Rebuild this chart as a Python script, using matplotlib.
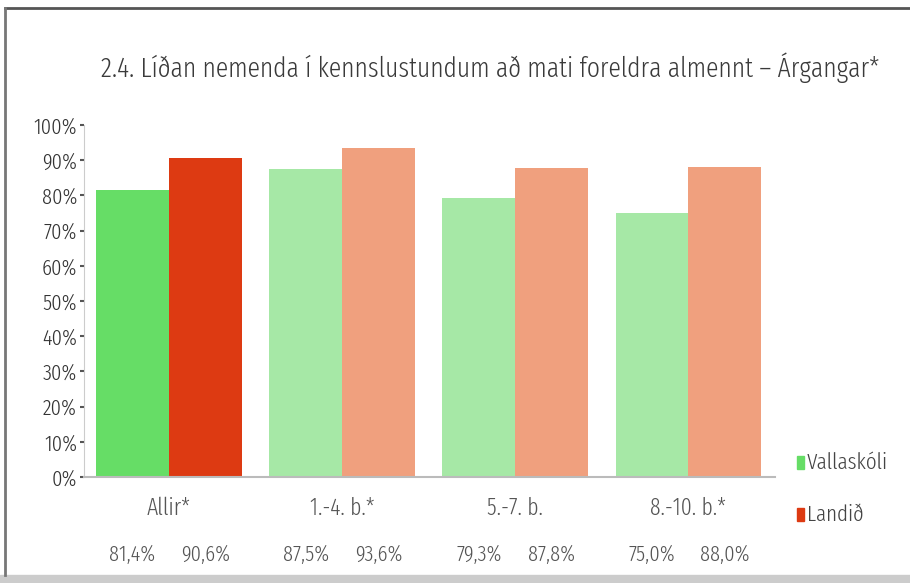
import matplotlib
matplotlib.use('Agg')
import matplotlib.pyplot as plt
import numpy as np

# ============================================================
# data
# ============================================================
categories = ['Allir*', '1.-4. b.*', '5.-7. b.', '8.-10. b.*']
vallaskoli = [81.4, 87.5, 79.3, 75.0]
landid = [90.6, 93.6, 87.8, 88.0]
series_names = ['Vallaskóli', 'Landið']
title = '2.4. Líðan nemenda í kennslustundum að mati foreldra almennt – Árgangar*'

green = ['#66dd66', '#a6e8a6', '#a6e8a6', '#a6e8a6']
red = ['#dd3a12', '#f0a07e', '#f0a07e', '#f0a07e']

plt.rcParams['font.family'] = ['Fira Sans Extra Condensed', 'DejaVu Sans']
plt.rcParams['font.weight'] = 300

fig = plt.figure(figsize=(9.1, 5.83), dpi=100)
ax = fig.add_axes([84 / 910, 1 - 477 / 583, (775 - 84) / 910, (477 - 125) / 583])

x = np.arange(len(categories))
w = 0.42
ax.bar(x - w / 2, vallaskoli, w, color=green)
ax.bar(x + w / 2, landid, w, color=red)

ax.set_xlim(-0.49, 3.5)
ax.set_ylim(0, 100)
ax.set_yticks(range(0, 101, 10))
ax.set_yticklabels([f'{v}%' for v in range(0, 101, 10)], fontsize=16, color='#333333')
ax.set_xticks(x)
ax.set_xticklabels(categories, fontsize=17, color='#555555')
ax.tick_params(axis='y', length=3, width=1.5, color='#555555', pad=2)
ax.tick_params(axis='x', length=0, pad=14)
for s in ['top', 'right']:
    ax.spines[s].set_visible(False)
ax.spines['left'].set_color('#cccccc')
ax.spines['bottom'].set_color('#bbbbbb')
ax.spines['bottom'].set_linewidth(1.5)

# values under the bars
for i in range(len(categories)):
    ax.text(x[i] - w / 2, -22, f'{vallaskoli[i]:.1f}%'.replace('.', ','),
            ha='center', va='center', fontsize=16, color='#555555')
    ax.text(x[i] + w / 2, -22, f'{landid[i]:.1f}%'.replace('.', ','),
            ha='center', va='center', fontsize=16, color='#555555')

fig.text(101 / 910, 1 - 68 / 583, title,
         fontsize=20, color='#3a3a3a', va='center', ha='left')

# legend
for j, (nm, c) in enumerate(zip(series_names, [green[0], red[0]])):
    yy = 1 - (463 + 52 * j) / 583
    fig.patches.append(plt.Rectangle((797 / 910, yy - 6 / 583), 7 / 910, 13 / 583,
                                     transform=fig.transFigure, color=c))
    fig.text(807 / 910, yy, nm, fontsize=16.5, color='#444444', va='center')

# frame
fig.add_artist(plt.Line2D([5 / 910, 1], [1 - 8 / 583] * 2, color='#555555', lw=2))
fig.add_artist(plt.Line2D([5 / 910] * 2, [1 - 8 / 583, 1 - 575 / 583], color='#777777', lw=2))
fig.patches.append(plt.Rectangle((0, 0), 1, 8 / 583, transform=fig.transFigure,
                                 color='#cccccc'))

plt.savefig('out.png', dpi=100)
